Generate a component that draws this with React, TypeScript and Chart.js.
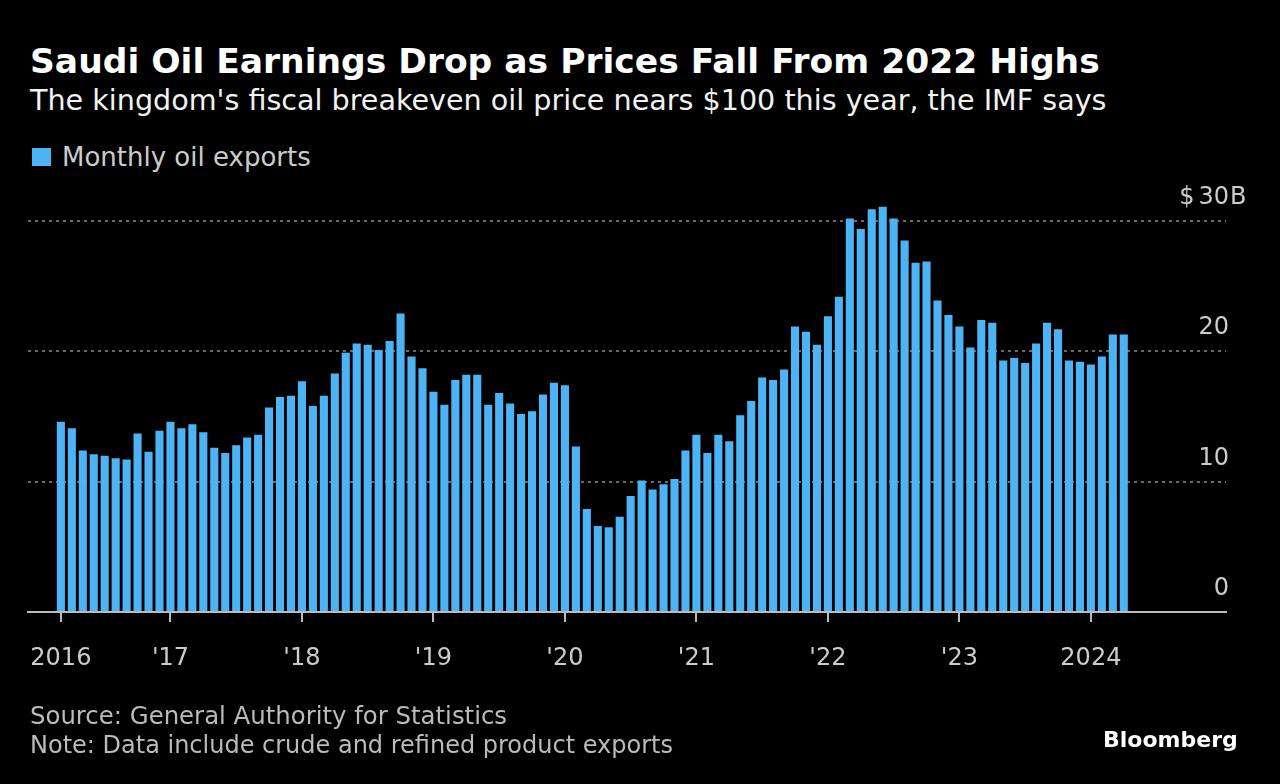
import React, { useEffect, useRef } from "react";
import { Chart, registerables } from "chart.js";

Chart.register(...registerables);

// Monthly Saudi oil exports, $ billions (Mar 2016 – Apr 2024)
const exports2016 = [14.6, 14.1, 12.4, 12.1, 12.0, 11.8, 11.7, 13.7, 12.3, 13.9]; // Mar–Dec
const exports2017 = [14.6, 14.1, 14.4, 13.8, 12.6, 12.2, 12.8, 13.4, 13.6, 15.7, 16.5, 16.6];
const exports2018 = [17.7, 15.8, 16.6, 18.3, 19.9, 20.6, 20.5, 20.1, 20.8, 22.9, 19.6, 18.7];
const exports2019 = [16.9, 15.9, 17.8, 18.2, 18.2, 15.9, 16.8, 16.0, 15.2, 15.4, 16.7, 17.6];
const exports2020 = [17.4, 12.7, 7.9, 6.6, 6.5, 7.3, 8.9, 10.1, 9.4, 9.8, 10.2, 12.4];
const exports2021 = [13.6, 12.2, 13.6, 13.1, 15.1, 16.2, 18.0, 17.8, 18.6, 21.9, 21.5, 20.5];
const exports2022 = [22.7, 24.2, 30.2, 29.4, 30.9, 31.1, 30.2, 28.5, 26.8, 26.9, 23.9, 22.8];
const exports2023 = [21.9, 20.3, 22.4, 22.2, 19.3, 19.5, 19.1, 20.6, 22.2, 21.7, 19.3, 19.2];
const exports2024 = [19.0, 19.6, 21.3, 21.3]; // Jan–Apr

const monthlyExports = [
  ...exports2016, ...exports2017, ...exports2018, ...exports2019, ...exports2020,
  ...exports2021, ...exports2022, ...exports2023, ...exports2024,
];

// x ticks: month index (0 = Mar 2016)
const xTickIndices = [0, 10, 22, 34, 46, 58, 70, 82, 94];
const xTickLabels = ["2016", "'17", "'18", "'19", "'20", "'21", "'22", "'23", "2024"];
const yTickValues = [0, 10, 20, 30];

const FONT = "'DejaVu Sans', sans-serif";
const BAR_COLOR = "#4db3f5";

const yLabelPlugin = {
  id: "yLabels",
  afterDraw(chart: any) {
    const ys = chart.scales.y;
    const ctx = chart.ctx;
    const right = chart.chartArea.right + 3;
    ctx.save();
    ctx.font = `24px ${FONT}`;
    ctx.fillStyle = "#cccccc";
    ctx.textBaseline = "alphabetic";
    yTickValues.forEach((v, i) => {
      const py = ys.getPixelForValue(v) - 17;
      const txt = String(v);
      ctx.textAlign = "right";
      ctx.fillText(txt, right, py);
      if (i === yTickValues.length - 1) {
        const w = ctx.measureText(txt).width;
        ctx.fillText("$", right - w - 4, py);
        ctx.textAlign = "left";
        ctx.fillText("B", right + 1, py);
      }
    });
    ctx.restore();
  },
};

export default function App() {
  const ref = useRef<HTMLCanvasElement | null>(null);

  useEffect(() => {
    if (!ref.current) return;
    const chart = new Chart(ref.current, {
      type: "bar",
      data: {
        datasets: [
          {
            label: "Monthly oil exports",
            data: monthlyExports.map((v, i) => ({ x: i, y: v })),
            backgroundColor: BAR_COLOR,
            borderWidth: 0,
            categoryPercentage: 1,
            barPercentage: 0.74,
          },
        ],
      },
      options: {
        animation: false,
        responsive: false,
        devicePixelRatio: 1,
        layout: { padding: { left: 28, right: 54, top: 195, bottom: 0 } },
        plugins: { legend: { display: false }, tooltip: { enabled: false }, title: { display: false } },
        scales: {
          x: {
            type: "linear",
            offset: false,
            min: -3,
            max: 106.33,
            afterFit: (s: any) => { s.height = 172; },
            afterBuildTicks: (s: any) => { s.ticks = xTickIndices.map((v) => ({ value: v })); },
            grid: {
              offset: false,
              drawOnChartArea: false,
              drawTicks: true,
              tickLength: 10,
              color: "#bbbbbb",
              lineWidth: 2,
            },
            border: { display: true, color: "#bbbbbb", width: 2 },
            ticks: {
              autoSkip: false,
              maxRotation: 0,
              padding: 22,
              color: "#cccccc",
              font: { family: FONT, size: 24 },
              callback: (value: any) => {
                const k = xTickIndices.indexOf(Number(value));
                return k >= 0 ? xTickLabels[k] : "";
              },
            },
          },
          y: {
            type: "linear",
            position: "right",
            min: 0,
            max: 32,
            z: 1,
            afterFit: (s: any) => { s.width = 0; },
            afterBuildTicks: (s: any) => { s.ticks = yTickValues.map((v) => ({ value: v })); },
            grid: { color: "rgba(150,150,150,0.7)", lineWidth: 2, drawTicks: false },
            border: { display: false, dash: [3, 4] },
            ticks: { display: false },
          },
        },
      },
      plugins: [yLabelPlugin],
    });
    return () => chart.destroy();
  }, []);

  const abs = (o: React.CSSProperties): React.CSSProperties => ({
    position: "absolute",
    margin: 0,
    lineHeight: 1,
    whiteSpace: "nowrap",
    fontFamily: FONT,
    ...o,
  });

  return (
    <div style={{ position: "absolute", left: 0, top: 0, width: 1280, height: 784, background: "#000", overflow: "hidden" }}>
      <div style={abs({ left: 30, top: 44, fontSize: 34.5, fontWeight: "bold", color: "#ffffff" })}>
        Saudi Oil Earnings Drop as Prices Fall From 2022 Highs
      </div>
      <div style={abs({ left: 30, top: 86, fontSize: 28.6, color: "#f2f2f2" })}>
        The kingdom's fiscal breakeven oil price nears $100 this year, the IMF says
      </div>
      <div style={abs({ left: 32, top: 148, width: 19, height: 18, background: BAR_COLOR })} />
      <div style={abs({ left: 62, top: 144, fontSize: 26, color: "#cccccc" })}>Monthly oil exports</div>
      <canvas ref={ref} width={1280} height={784} style={{ position: "absolute", left: 0, top: 0, width: 1280, height: 784 }} />
      <div style={abs({ left: 30, top: 704, fontSize: 24.4, color: "#bbbbbb" })}>
        Source: General Authority for Statistics
      </div>
      <div style={abs({ left: 30, top: 733, fontSize: 24, color: "#bbbbbb" })}>
        Note: Data include crude and refined product exports
      </div>
      <div style={abs({ left: 1103, top: 729, fontSize: 22, fontWeight: "bold", color: "#ffffff" })}>Bloomberg</div>
    </div>
  );
}
